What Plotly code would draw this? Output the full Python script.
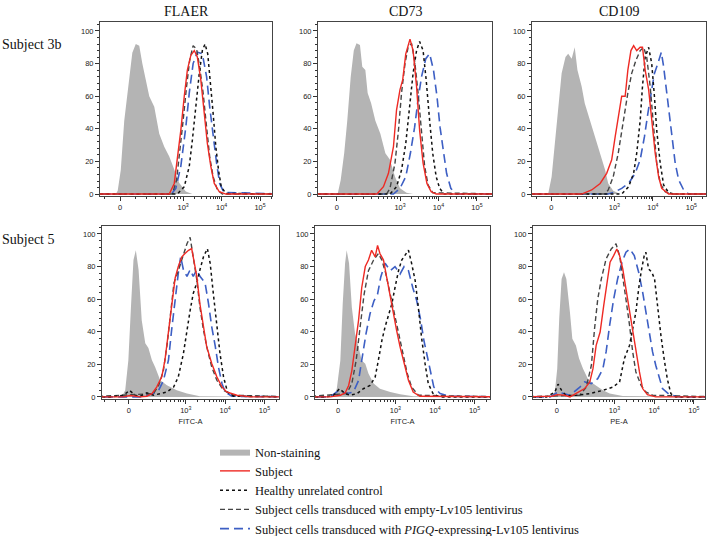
import numpy as np
import plotly.graph_objects as go

# x values are in display units of the biexponential axis (10^3 -> 3, 10^4 -> 4 ...)
# y values are % of max
cols = ['FLAER', 'CD73', 'CD109']
rows = ['Subject 3b', 'Subject 5']
x_titles = ['FITC-A', 'FITC-A', 'PE-A']
tick_text = ['0', '10<sup>3</sup>', '10<sup>4</sup>', '10<sup>5</sup>']
zero_pos = [1.36, 1.55]   # where "0" sits on the axis, per row

# ---- Subject 3b / FLAER
flaer_3b_gray_x = [1.25, 1.30, 1.38, 1.47, 1.60, 1.68, 1.77, 1.86, 1.94, 2.03, 2.12, 2.25, 2.38, 2.51, 2.64, 2.77, 2.90, 3.07, 3.24]
flaer_3b_gray_y = [0, 2, 14.7, 45, 72, 86.7, 92, 91, 80, 71, 60, 53.5, 37, 29, 23, 15, 6.7, 1.5, 0]
flaer_3b_red_x = [2.64, 2.77, 2.85, 2.94, 3.03, 3.11, 3.20, 3.29, 3.37, 3.46, 3.55, 3.63, 3.72, 3.81, 3.94, 4.11]
flaer_3b_red_y = [0, 6.5, 21, 39, 60, 76, 85, 88, 84, 70, 49.5, 31, 17, 6.5, 1.4, 0]
flaer_3b_dot_x = [2.85, 3.03, 3.16, 3.24, 3.33, 3.42, 3.50, 3.57, 3.64, 3.71, 3.78, 3.85, 3.92, 3.99, 4.11]
flaer_3b_dot_y = [0, 4.5, 17, 33, 55.6, 74, 88, 92, 86, 70, 49.5, 29, 14.7, 4.5, 0.4]
flaer_3b_dash_x = [2.72, 2.83, 2.91, 3.0, 3.09, 3.17, 3.26, 3.35, 3.43, 3.52, 3.61, 3.69, 3.78, 3.89, 4.02]
flaer_3b_dash_y = [0, 8.6, 25, 45, 66, 82, 91, 89, 78, 62, 41, 23, 10.6, 2.5, 0]
flaer_3b_blue_x = [2.70, 2.81, 2.94, 3.07, 3.16, 3.26, 3.37, 3.50, 3.61, 3.69, 3.78, 3.87, 3.95, 4.06]
flaer_3b_blue_y = [0, 3.5, 17, 41, 62, 80, 87, 86, 72, 53.6, 35, 19, 6.5, 1]

# ---- Subject 3b / CD73
cd73_3b_gray_x = [1.38, 1.46, 1.55, 1.63, 1.72, 1.80, 1.87, 1.96, 2.02, 2.10, 2.16, 2.25, 2.36, 2.49, 2.62, 2.74, 2.87, 3.0, 3.17, 3.34]
cd73_3b_gray_y = [0, 8.6, 25, 45, 72, 88, 92.4, 91.4, 78, 76, 62, 55.6, 45, 37, 25, 21, 10.6, 3.5, 0.8, 0]
cd73_3b_red_x = [2.40, 2.57, 2.70, 2.83, 2.91, 3.0, 3.07, 3.15, 3.26, 3.34, 3.43, 3.51, 3.60, 3.70, 3.81, 3.94]
cd73_3b_red_y = [0, 4.5, 12.7, 29, 51.5, 64, 70, 86, 95, 88, 66, 39, 19, 6.5, 1.4, 0]
cd73_3b_dot_x = [2.74, 2.91, 3.04, 3.15, 3.26, 3.34, 3.43, 3.51, 3.60, 3.68, 3.77, 3.85, 3.94, 4.03, 4.15]
cd73_3b_dot_y = [0, 4.5, 14.7, 31, 53.6, 74, 88, 93.5, 88, 70, 45, 25, 10.6, 3.5, 0]
cd73_3b_dash_x = [2.65, 2.74, 2.87, 2.96, 3.04, 3.13, 3.21, 3.30, 3.38, 3.47, 3.56, 3.64, 3.73, 3.85]
cd73_3b_dash_y = [0, 3.5, 19, 39, 62, 80, 90, 92.4, 82, 62, 37, 17, 5.5, 0.8]
cd73_3b_blue_x = [2.83, 3.0, 3.15, 3.27, 3.38, 3.47, 3.56, 3.67, 3.77, 3.87, 3.96, 4.04, 4.13, 4.21, 4.32, 4.45]
cd73_3b_blue_y = [0, 3.5, 10.6, 25, 41, 58, 72, 83, 86, 76, 60, 41, 25, 12.7, 3.5, 0]

# ---- Subject 3b / CD109
cd109_3b_gray_x = [1.28, 1.37, 1.45, 1.54, 1.63, 1.73, 1.80, 1.89, 1.97, 2.04, 2.15, 2.23, 2.37, 2.50, 2.63, 2.76, 2.84, 2.97, 3.15]
cd109_3b_gray_y = [0, 10.6, 29, 53.6, 74, 84, 86, 83, 90, 76, 66, 55.6, 45, 35, 25, 14.7, 6.5, 2, 0]
cd109_3b_red_x = [2.15, 2.41, 2.63, 2.80, 2.93, 3.02, 3.10, 3.19, 3.28, 3.35, 3.43, 3.50, 3.58, 3.67, 3.73, 3.80, 3.89, 3.97, 4.06, 4.15, 4.23, 4.41]
cd109_3b_red_y = [0, 2.5, 6.5, 12.7, 21, 35, 47.4, 60, 60, 76, 88, 91, 88, 90, 90, 76, 64, 45, 25, 10.6, 3.5, 0]
cd109_3b_dot_x = [3.19, 3.37, 3.50, 3.58, 3.67, 3.73, 3.80, 3.89, 3.97, 4.04, 4.10, 4.19, 4.28, 4.41, 4.54]
cd109_3b_dot_y = [0, 4.5, 12.7, 25, 45, 66, 84, 90, 80, 60, 39, 19, 5.5, 0.8, 0]
cd109_3b_dash_x = [2.75, 2.84, 2.97, 3.10, 3.23, 3.35, 3.45, 3.56, 3.67, 3.76, 3.84, 3.93, 4.02, 4.10, 4.19, 4.32, 4.45]
cd109_3b_dash_y = [0, 2.5, 10.6, 25, 45, 62, 74, 82, 88, 90, 84, 66, 41, 19, 6.5, 1.4, 0]
cd109_3b_blue_x = [2.84, 3.02, 3.19, 3.37, 3.54, 3.67, 3.78, 3.87, 3.96, 4.04, 4.13, 4.22, 4.28, 4.34, 4.41, 4.50, 4.58, 4.67, 4.80, 4.93]
cd109_3b_blue_y = [0, 1.4, 3.5, 6.5, 12.7, 21, 35, 49.5, 64, 74, 80, 87, 78, 66, 51.5, 33, 19, 8.6, 2.5, 0]

# ---- Subject 5 / FLAER
flaer_5_gray_x = [1.37, 1.46, 1.54, 1.61, 1.67, 1.73, 1.80, 1.88, 1.97, 2.05, 2.14, 2.22, 2.35, 2.52, 2.77, 3.03, 3.36]
flaer_5_gray_y = [0, 4, 22.5, 57, 84, 90, 78, 47, 33, 30, 22.5, 18.4, 10.2, 7.2, 4.1, 2, 0.4]
flaer_5_red_x = [1.08, 1.42, 1.58, 1.84, 2.01, 2.14, 2.26, 2.39, 2.47, 2.56, 2.64, 2.73, 2.81, 2.90, 2.98, 3.07, 3.15, 3.21, 3.28, 3.36, 3.45, 3.53, 3.66, 3.79, 3.92, 4.04, 4.30, 4.64]
flaer_5_red_y = [0, 0, 0.8, 0, 0.4, 2, 6, 12.3, 22.5, 39, 57, 73, 80, 86, 88, 90, 91, 84, 74, 57, 43, 31, 20.5, 12.3, 6.1, 3, 1, 0]
flaer_5_dot_x = [1.08, 1.42, 1.57, 1.71, 1.84, 2.01, 2.18, 2.35, 2.52, 2.69, 2.81, 2.94, 3.03, 3.11, 3.19, 3.28, 3.36, 3.45, 3.55, 3.62, 3.70, 3.79, 3.87, 3.96, 4.06, 4.21]
flaer_5_dot_y = [0, 1, 4, 1, 0.4, 2.5, 1, 2, 3, 6, 12.3, 26.6, 41, 53, 63.5, 70, 78, 86, 91, 82, 63.5, 43, 26.6, 12.3, 3, 0.4]
flaer_5_dash_x = [2.18, 2.31, 2.43, 2.53, 2.62, 2.70, 2.79, 2.90, 3.03, 3.11, 3.19, 3.28, 3.36, 3.45, 3.55, 3.66, 3.79, 3.96, 4.21]
flaer_5_dash_y = [2, 7, 16, 33, 53, 70, 76, 84, 94, 98, 86, 72, 55, 41, 29, 18.4, 10.2, 4, 1]
flaer_5_blue_x = [1.84, 2.18, 2.31, 2.43, 2.56, 2.64, 2.73, 2.81, 2.87, 2.94, 3.03, 3.11, 3.19, 3.28, 3.36, 3.49, 3.58, 3.66, 3.75, 3.83, 3.92, 4.0, 4.17]
flaer_5_blue_y = [0, 2, 4, 10, 22.5, 41, 61, 76, 86, 78, 74, 78, 74, 78, 74, 70, 57, 43, 31, 18.4, 8.2, 3, 0.4]

# ---- Subject 5 / CD73
cd73_5_gray_x = [1.44, 1.52, 1.61, 1.67, 1.73, 1.77, 1.83, 1.90, 1.98, 2.07, 2.15, 2.24, 2.32, 2.45, 2.61, 2.87, 3.12, 3.45]
cd73_5_gray_y = [0, 5, 22.4, 57, 82, 90, 82, 55, 39, 30.6, 22.4, 20.4, 14.3, 8.2, 5, 3, 1.6, 0.4]
cd73_5_red_x = [1.35, 1.61, 1.73, 1.82, 1.90, 1.98, 2.07, 2.15, 2.24, 2.32, 2.40, 2.49, 2.55, 2.61, 2.70, 2.78, 2.87, 2.95, 3.03, 3.12, 3.22, 3.33, 3.45, 3.62]
cd73_5_red_y = [0, 1, 2.4, 7, 16, 30.6, 47, 67, 80, 84, 90, 86, 93, 88, 84, 73.5, 61, 51, 41, 30.6, 20.4, 10.2, 3, 0.4]
cd73_5_dot_x = [1.27, 1.44, 1.59, 1.73, 1.86, 2.03, 2.19, 2.36, 2.49, 2.57, 2.66, 2.74, 2.82, 2.91, 2.99, 3.08, 3.16, 3.24, 3.33, 3.41, 3.50, 3.58, 3.66, 3.75, 3.83, 3.96, 4.13]
cd73_5_dot_y = [0, 1, 5, 2, 1, 2, 5, 7, 12.2, 22.4, 34.7, 43, 49, 57, 67, 77.5, 84, 86.7, 90, 82, 71.4, 55, 36.7, 20.4, 8.2, 1.6, 0]
cd73_5_dash_x = [1.77, 1.90, 2.01, 2.11, 2.21, 2.32, 2.45, 2.57, 2.66, 2.76, 2.87, 2.97, 3.08, 3.18, 3.30, 3.41, 3.58]
cd73_5_dash_y = [2, 8.2, 22.4, 43, 63, 77.5, 84, 88, 84, 75.5, 63, 51, 39, 26.5, 14.3, 6.1, 1]
cd73_5_blue_x = [1.35, 1.56, 1.77, 1.94, 2.07, 2.15, 2.26, 2.36, 2.46, 2.55, 2.63, 2.74, 2.87, 2.99, 3.12, 3.22, 3.33, 3.44, 3.54, 3.64, 3.72, 3.81, 3.89, 3.97, 4.13, 4.38]
cd73_5_blue_y = [0, 3.7, 2, 3, 10, 22.4, 39, 51, 59, 63, 73.5, 82, 77.5, 80, 75.5, 80, 77.5, 67, 59, 47, 34.7, 24.5, 14.3, 6.1, 2, 0.4]

# ---- Subject 5 / CD109
cd109_5_gray_x = [1.38, 1.50, 1.56, 1.61, 1.67, 1.73, 1.79, 1.88, 1.94, 2.03, 2.11, 2.21, 2.33, 2.46, 2.58, 2.71, 2.88, 3.21]
cd109_5_gray_y = [0, 3, 17.3, 48, 72.4, 76.5, 72.4, 52, 35.7, 31.6, 23.5, 17.3, 11.2, 8.2, 6.1, 4, 2, 0.6]
cd109_5_red_x = [1.04, 1.42, 1.56, 1.75, 1.88, 2.04, 2.25, 2.38, 2.46, 2.54, 2.64, 2.73, 2.81, 2.89, 2.98, 3.06, 3.13, 3.21, 3.29, 3.38, 3.46, 3.54, 3.63, 3.71, 3.83, 4.04]
cd109_5_red_y = [0, 0.4, 1.4, 1, 0, 2, 5.1, 9.2, 17.3, 31.6, 39.8, 56, 70.4, 82.7, 86.7, 90.8, 86.7, 78.6, 66.3, 52, 39.8, 27.6, 15.3, 5.1, 1.4, 0]
cd109_5_dot_x = [1.29, 1.50, 1.58, 1.67, 1.79, 2.04, 2.38, 2.71, 2.96, 3.13, 3.25, 3.38, 3.46, 3.54, 3.61, 3.67, 3.75, 3.79, 3.86, 3.94, 4.01, 4.08, 4.17, 4.25, 4.33, 4.42, 4.54]
cd109_5_dot_y = [0, 3, 7.8, 4, 0.6, 1, 2, 4, 6, 9.2, 23.5, 31.6, 41.8, 52, 66.3, 76.5, 86.7, 88.8, 78.6, 76.5, 72.4, 56, 37.8, 23.5, 11.2, 2, 0]
cd109_5_dash_x = [2.13, 2.29, 2.42, 2.50, 2.58, 2.67, 2.79, 2.92, 3.04, 3.13, 3.21, 3.29, 3.38, 3.46, 3.54, 3.67, 3.79, 3.96]
cd109_5_dash_y = [1, 6, 19.4, 42, 60, 72.4, 84.7, 90.8, 94, 86.7, 74.5, 60, 44, 27.6, 15.3, 7.1, 3, 1]
cd109_5_blue_x = [1.38, 1.58, 1.88, 2.13, 2.25, 2.42, 2.58, 2.71, 2.79, 2.88, 2.98, 3.08, 3.19, 3.29, 3.39, 3.50, 3.61, 3.71, 3.79, 3.88, 3.96, 4.04, 4.13, 4.21, 4.38, 4.63]
cd109_5_blue_y = [0, 3, 1, 6, 9.2, 8.2, 11.2, 17.3, 27.6, 44, 60, 72.4, 82.7, 88.8, 90.8, 86.7, 76.5, 64.3, 52, 39.8, 27.6, 19.4, 11.2, 5.1, 1.4, 0]

series_names = [
    'Non-staining',
    'Subject',
    'Healthy unrelated control',
    'Subject cells transduced with empty-Lv105 lentivirus',
    'Subject cells transduced with <i>PIGQ</i>-expressing-Lv105 lentivirus',
]

panels = [
    [(flaer_3b_gray_x, flaer_3b_gray_y), (flaer_3b_red_x, flaer_3b_red_y), (flaer_3b_dot_x, flaer_3b_dot_y),
     (flaer_3b_dash_x, flaer_3b_dash_y), (flaer_3b_blue_x, flaer_3b_blue_y)],
    [(cd73_3b_gray_x, cd73_3b_gray_y), (cd73_3b_red_x, cd73_3b_red_y), (cd73_3b_dot_x, cd73_3b_dot_y),
     (cd73_3b_dash_x, cd73_3b_dash_y), (cd73_3b_blue_x, cd73_3b_blue_y)],
    [(cd109_3b_gray_x, cd109_3b_gray_y), (cd109_3b_red_x, cd109_3b_red_y), (cd109_3b_dot_x, cd109_3b_dot_y),
     (cd109_3b_dash_x, cd109_3b_dash_y), (cd109_3b_blue_x, cd109_3b_blue_y)],
    [(flaer_5_gray_x, flaer_5_gray_y), (flaer_5_red_x, flaer_5_red_y), (flaer_5_dot_x, flaer_5_dot_y),
     (flaer_5_dash_x, flaer_5_dash_y), (flaer_5_blue_x, flaer_5_blue_y)],
    [(cd73_5_gray_x, cd73_5_gray_y), (cd73_5_red_x, cd73_5_red_y), (cd73_5_dot_x, cd73_5_dot_y),
     (cd73_5_dash_x, cd73_5_dash_y), (cd73_5_blue_x, cd73_5_blue_y)],
    [(cd109_5_gray_x, cd109_5_gray_y), (cd109_5_red_x, cd109_5_red_y), (cd109_5_dot_x, cd109_5_dot_y),
     (cd109_5_dash_x, cd109_5_dash_y), (cd109_5_blue_x, cd109_5_blue_y)],
]

W, H = 709, 536
# panel frames in pixels (left, right, top, bottom) and x range per panel
frames = [(100, 272, 22, 196), (318, 492, 22, 196), (532, 706, 22, 196),
          (102, 279, 226, 399), (315, 490, 226, 399), (533, 705, 226, 399)]
x_ranges = [(0.84, 5.31), (0.87, 5.39), (0.86, 5.38), (0.87, 5.37), (0.97, 5.39), (0.95, 5.28)]
y_ranges = [(-1.2, 105.5), (-1.3, 104.9)]

styles = [
    dict(mode='lines', fill='tozeroy', fillcolor='#b4b4b4', line=dict(width=0, color='#b4b4b4')),
    dict(mode='lines', line=dict(color='#ee2a24', width=1.4)),
    dict(mode='lines', line=dict(color='#111111', width=1.5, dash='dot')),
    dict(mode='lines', line=dict(color='#454545', width=1.4, dash='5px,3px')),
    dict(mode='lines', line=dict(color='#3d5fc4', width=1.6, dash='9px,5px')),
]
draw_order = [0, 4, 3, 2, 1]
legend_rank = [1, 2, 3, 4, 5]


def biex(v, z):
    return z + (3 - z) * np.arcsinh(v / 150) / np.arcsinh(1000 / 150)


def pad(xs, ys, lo, hi):
    # zero-count bins out to the axis ends
    return [lo] + list(xs) + [hi], [0] + list(ys) + [0]


fig = go.Figure()
tick_font = dict(family='Liberation Sans, Arial', size=7.5, color='#222')

for p, data in enumerate(panels):
    r, c = divmod(p, 3)
    ax = '' if p == 0 else str(p + 1)
    for s in draw_order:
        xs, ys = pad(*data[s], x_ranges[p][0] - 0.3, x_ranges[p][1] + 0.3)
        fig.add_trace(go.Scatter(
            x=xs, y=ys, xaxis='x' + ax, yaxis='y' + ax,
            name=series_names[s], legendrank=legend_rank[s],
            showlegend=(p == 0), hoverinfo='skip', **styles[s]))

    z = zero_pos[r]
    minor_vals = [biex(v, z) for v in (-300, -200, -100, 100, 200, 300, 400, 500, 600, 700, 800, 900)]
    minor_vals += [d + np.log10(k) for d in (3, 4, 5) for k in range(2, 10)]
    l, rr, t, b = frames[p]
    fig.layout['xaxis' + ax] = dict(
        domain=[l / W, rr / W], anchor='y' + ax, range=list(x_ranges[p]),
        tickmode='array', tickvals=[z, 3, 4, 5], ticktext=tick_text,
        ticks='outside', ticklen=4, tickwidth=1, tickcolor='#333',
        minor=dict(tickmode='array', tickvals=minor_vals, ticks='outside', ticklen=2, tickcolor='#333'),
        showline=True, linecolor='#444', linewidth=1, mirror=True,
        showgrid=False, zeroline=False, tickfont=tick_font, automargin=False,
        title=dict(text=x_titles[c] if r == 1 else '', font=tick_font, standoff=4),
    )
    fig.layout['yaxis' + ax] = dict(
        domain=[1 - b / H, 1 - t / H], anchor='x' + ax, range=list(y_ranges[r]),
        tickmode='array', tickvals=[0, 20, 40, 60, 80, 100],
        ticks='outside', ticklen=4, tickwidth=1, tickcolor='#333',
        minor=dict(dtick=4, ticks='outside', ticklen=2, tickcolor='#333'),
        showline=True, linecolor='#444', linewidth=1, mirror=True,
        showgrid=False, zeroline=False, tickfont=tick_font, automargin=False,
    )

serif = 'Liberation Serif, Times New Roman'
annotations = []
for c, name in enumerate(cols):
    l, rr, t, b = frames[c]
    annotations.append(dict(text=name, x=(l + rr) / 2 / W, y=1 - 12 / H, xref='paper', yref='paper',
                            xanchor='center', yanchor='middle',
                            showarrow=False, font=dict(family=serif, size=14, color='#111')))
for r, name in enumerate(rows):
    annotations.append(dict(text=name, x=0, y=1 - (44 if r == 0 else 240) / H, xref='paper', yref='paper',
                            xanchor='left', yanchor='middle', showarrow=False,
                            font=dict(family=serif, size=14, color='#111')))

fig.update_layout(
    width=W, height=H,
    margin=dict(l=0, r=0, t=0, b=0, autoexpand=False),
    paper_bgcolor='white', plot_bgcolor='white',
    annotations=annotations,
    legend=dict(x=215 / W, y=1 - 437 / H, xanchor='left', yanchor='top',
                font=dict(family=serif, size=12.5, color='#111'),
                bgcolor='rgba(0,0,0,0)', itemwidth=30, tracegroupgap=0),
)

# the page's default body margin would push the figure 8px right and down
fig.write_html("out.html", config={'displayModeBar': False},
               post_script="document.body.style.margin = '0px';")
